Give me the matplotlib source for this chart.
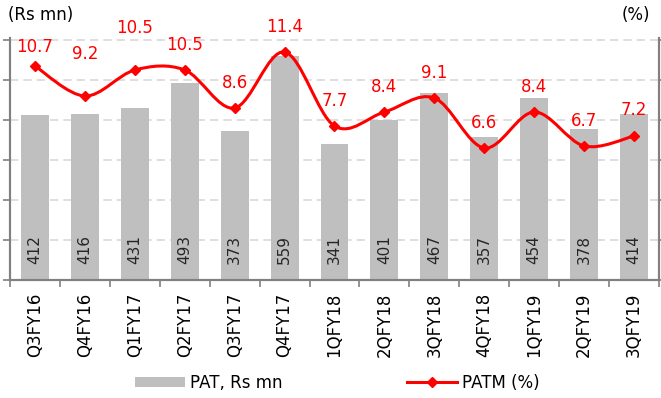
import numpy as np
import matplotlib
matplotlib.use("Agg")
import matplotlib.pyplot as plt
from matplotlib.path import Path
from matplotlib.patches import PathPatch, Patch
from matplotlib.lines import Line2D

quarters = ["Q3FY16", "Q4FY16", "Q1FY17", "Q2FY17", "Q3FY17", "Q4FY17", "1QFY18",
            "2QFY18", "3QFY18", "4QFY18", "1QFY19", "2QFY19", "3QFY19"]
pat = [412, 416, 431, 493, 373, 559, 341, 401, 467, 357, 454, 378, 414]
patm = [10.7, 9.2, 10.5, 10.5, 8.6, 11.4, 7.7, 8.4, 9.1, 6.6, 8.4, 6.7, 7.2]
# vertical offset (points) of each margin label above its marker
label_lift = [14, 30, 30, 18, 18, 18, 18, 18, 18, 18, 18, 18, 19]

BAR_COLOR = "#bfbfbf"
LINE_COLOR = "#ff0000"
AXIS_COLOR = "#808080"
plt.rcParams["font.family"] = "DejaVu Sans"


def smooth_path(xs, ys, k=1 / 6):
    # cubic bezier through the points, control handles from neighbouring slopes
    verts = [(xs[0], ys[0])]
    codes = [Path.MOVETO]
    n = len(xs)
    for i in range(n - 1):
        x0, y0 = xs[max(i - 1, 0)], ys[max(i - 1, 0)]
        x1, y1 = xs[i], ys[i]
        x2, y2 = xs[i + 1], ys[i + 1]
        x3, y3 = xs[min(i + 2, n - 1)], ys[min(i + 2, n - 1)]
        verts += [(x1 + (x2 - x0) * k, y1 + (y2 - y0) * k),
                  (x2 - (x3 - x1) * k, y2 - (y3 - y1) * k),
                  (x2, y2)]
        codes += [Path.CURVE4] * 3
    return Path(verts, codes)


fig = plt.figure(figsize=(6.61, 3.98), dpi=100)
ax = fig.add_axes([0.0151, 0.2965, 0.9819, 0.608])
x = np.arange(len(quarters))

ax.bar(x, pat, width=0.56, color=BAR_COLOR, zorder=2)
for xi, v in zip(x, pat):
    ax.annotate(str(v), (xi, 0), xytext=(0, 22), textcoords="offset points",
                rotation=90, ha="center", va="center",
                fontsize=11, color="#262626", zorder=3)

ax.set_ylim(0, 605)
ax.set_yticks(range(0, 601, 100))
ax.set_yticklabels([])
ax.set_xlim(-0.5, len(quarters) - 0.5)
ax.set_xticks(x)
ax.set_xticklabels(quarters, rotation=90, fontsize=12)
ax.tick_params(axis="x", which="major", length=0, pad=9)
ax.set_xticks(np.arange(-0.5, len(quarters), 1), minor=True)
ax.tick_params(axis="x", which="minor", length=5, width=1.2, color=AXIS_COLOR)
ax.tick_params(axis="y", length=5, width=1.2, color=AXIS_COLOR)
ax.grid(axis="y", color="#d9d9d9", linestyle=(0, (5, 3)), linewidth=1.2, zorder=0)
ax.set_axisbelow(True)

ax2 = ax.twinx()
ax2.set_ylim(0, 12.1)
ax2.set_yticks(range(0, 13, 2))
ax2.set_yticklabels([])
ax2.tick_params(axis="y", length=5, width=1.2, color=AXIS_COLOR)
ax2.add_patch(PathPatch(smooth_path(x, patm), facecolor="none",
                        edgecolor=LINE_COLOR, linewidth=2.2, zorder=3))
ax2.plot(x, patm, linestyle="none", marker="D", markersize=5.5,
         color=LINE_COLOR, zorder=4)
for xi, v, lift in zip(x, patm, label_lift):
    ax2.annotate(f"{v:.1f}", (xi, v), xytext=(0, lift), textcoords="offset points",
                 ha="center", va="center", fontsize=12, color=LINE_COLOR)

for a in (ax, ax2):
    a.spines["top"].set_visible(False)
    for side in ("left", "right", "bottom"):
        a.spines[side].set_color(AXIS_COLOR)
        a.spines[side].set_linewidth(1.5)

fig.text(0.012, 0.962, "(Rs mn)", fontsize=12, va="center", ha="left")
fig.text(0.983, 0.962, "(%)", fontsize=12, va="center", ha="right")

handles = [Patch(facecolor=BAR_COLOR, edgecolor="none", label="PAT, Rs mn"),
           Line2D([0], [0], color=LINE_COLOR, linewidth=2.2, marker="D",
                  markersize=5, label="PATM (%)")]
fig.legend(handles=handles, loc="center", bbox_to_anchor=(0.51, 0.038), ncol=2,
           frameon=False, fontsize=12, handlelength=3.0, handleheight=0.6,
           columnspacing=7.5, handletextpad=0.3)

fig.savefig("out.png", dpi=100)
